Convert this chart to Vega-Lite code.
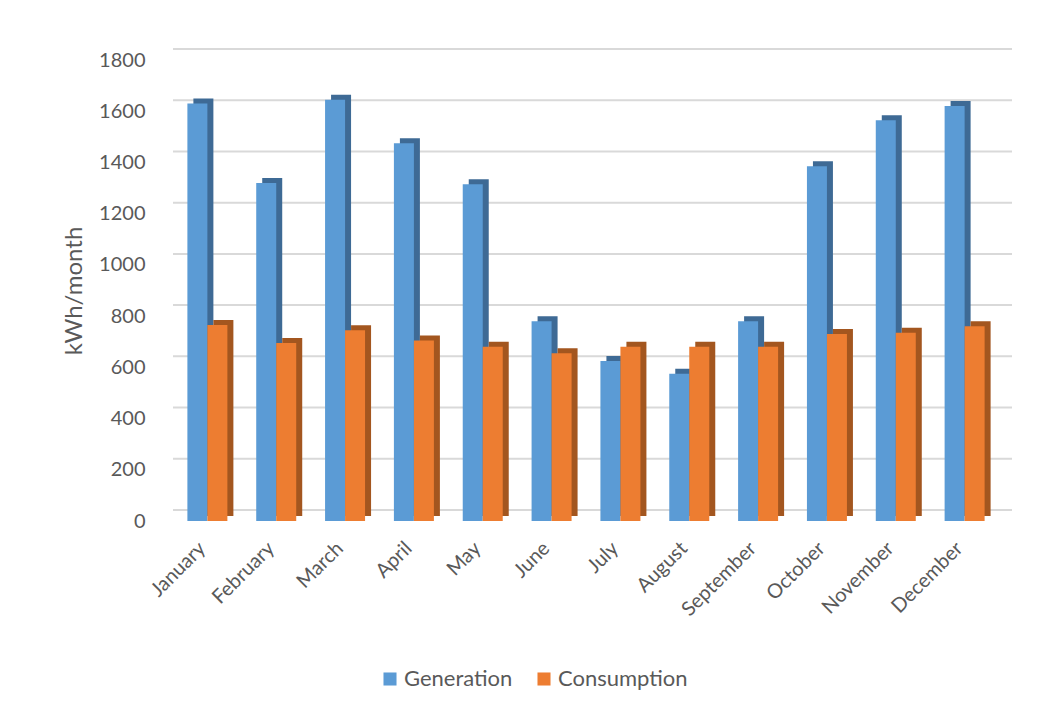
{
  "$schema": "https://vega.github.io/schema/vega-lite/v6.json",
  "width": 826,
  "height": 461,
  "autosize": {"type": "none"},
  "padding": {"left": 173, "top": 60, "right": 49, "bottom": 191},
  "background": "white",
  "config": {
    "view": {"stroke": null},
    "font": "Lato",
    "axisX": {"title": null, "domain": false, "ticks": false, "grid": false, "labelAngle": -45, "labelAlign": "right", "labelBaseline": "middle", "labelPadding": 24, "labelFontSize": 20, "labelColor": "#595959", "labelOffset": -5},
    "axisY": {"grid": false, "domain": false, "ticks": false, "labelPadding": 28, "labelFontSize": 20, "labelColor": "#595959", "titleFontSize": 24, "titleFontWeight": "normal", "titleColor": "#595959", "titlePadding": 12, "format": "d"}
  },
  "datasets": {
    "energy": [
      {"month": "January", "series": "Generation", "value": 1630},
      {"month": "January", "series": "Consumption", "value": 765},
      {"month": "February", "series": "Generation", "value": 1320},
      {"month": "February", "series": "Consumption", "value": 695},
      {"month": "March", "series": "Generation", "value": 1645},
      {"month": "March", "series": "Consumption", "value": 745},
      {"month": "April", "series": "Generation", "value": 1475},
      {"month": "April", "series": "Consumption", "value": 705},
      {"month": "May", "series": "Generation", "value": 1315},
      {"month": "May", "series": "Consumption", "value": 680},
      {"month": "June", "series": "Generation", "value": 780},
      {"month": "June", "series": "Consumption", "value": 655},
      {"month": "July", "series": "Generation", "value": 625},
      {"month": "July", "series": "Consumption", "value": 680},
      {"month": "August", "series": "Generation", "value": 575},
      {"month": "August", "series": "Consumption", "value": 680},
      {"month": "September", "series": "Generation", "value": 780},
      {"month": "September", "series": "Consumption", "value": 680},
      {"month": "October", "series": "Generation", "value": 1385},
      {"month": "October", "series": "Consumption", "value": 730},
      {"month": "November", "series": "Generation", "value": 1565},
      {"month": "November", "series": "Consumption", "value": 735},
      {"month": "December", "series": "Generation", "value": 1620},
      {"month": "December", "series": "Consumption", "value": 760}
    ],
    "grid": [
      {"v": 0}, {"v": 200}, {"v": 400}, {"v": 600}, {"v": 800},
      {"v": 1000}, {"v": 1200}, {"v": 1400}, {"v": 1600}, {"v": 1800}
    ]
  },
  "resolve": {"scale": {"xOffset": "independent"}},
  "layer": [
    {
      "data": {"name": "grid"},
      "mark": {"type": "rule", "color": "#d9d9d9", "strokeWidth": 2, "xOffset": 13, "yOffset": -11},
      "encoding": {
        "y": {"field": "v", "type": "quantitative", "scale": {"domain": [0, 1800], "nice": false},
          "axis": {"values": [0,200,400,600,800,1000,1200,1400,1600,1800], "title": "kWh/month"}}
      }
    },
    {
      "data": {"name": "energy"},
      "mark": {"type": "bar", "yOffset": -5},
      "encoding": {
        "x": {"field": "month", "type": "nominal", "sort": ["January","February","March","April","May","June","July","August","September","October","November","December"], "scale": {"paddingInner": 0.419, "paddingOuter": 0.209}},
        "xOffset": {"field": "series", "type": "nominal", "sort": ["Generation", "Consumption"], "scale": {"range": [6, 46], "paddingInner": 0, "paddingOuter": 0}},
        "y": {"field": "value", "type": "quantitative",
          "axis": {"values": [0,200,400,600,800,1000,1200,1400,1600,1800], "title": "kWh/month"}},
        "color": {"condition": {"test": "datum.series === 'Generation'", "value": "#3e6a95"}, "value": "#a3561f"}
      }
    },
    {
      "data": {"name": "energy"},
      "mark": {"type": "bar"},
      "encoding": {
        "x": {"field": "month", "type": "nominal", "sort": ["January","February","March","April","May","June","July","August","September","October","November","December"]},
        "xOffset": {"field": "series", "type": "nominal", "sort": ["Generation", "Consumption"], "scale": {"paddingInner": 0, "paddingOuter": 0}},
        "y": {"field": "value", "type": "quantitative",
          "axis": {"values": [0,200,400,600,800,1000,1200,1400,1600,1800], "title": "kWh/month"}},
        "color": {"field": "series", "type": "nominal", "sort": ["Generation", "Consumption"],
          "scale": {"domain": ["Generation", "Consumption"], "range": ["#5b9bd5", "#ed7d31"]},
          "legend": {"title": null, "orient": "none", "legendX": 206, "legendY": 608, "direction": "horizontal", "symbolType": "square", "symbolSize": 170, "symbolStrokeWidth": 0, "labelFontSize": 22, "labelColor": "#595959", "labelOffset": 3, "columnPadding": 20, "padding": 0}}
      }
    }
  ]
}
